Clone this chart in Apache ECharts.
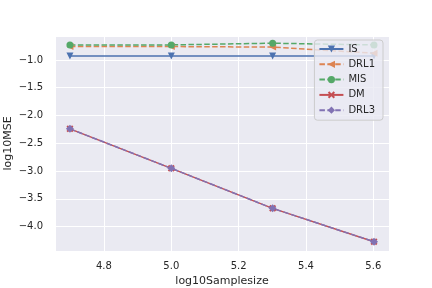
<!DOCTYPE html>
<html><head><meta charset="utf-8">
<script src="https://cdn.jsdelivr.net/npm/echarts@6/dist/echarts.min.js"></script>
<style>html,body{margin:0;padding:0;background:#fff}#c{width:432px;height:288px}</style>
</head><body><div id="c"></div>
<script>
var xVals = [4.699, 5.0, 5.301, 5.602];
var IS   = [-0.93, -0.93, -0.93, -0.93];
var DRL1 = [-0.76, -0.76, -0.77, -0.88];
var MIS  = [-0.73, -0.73, -0.70, -0.73];
var DM   = [-2.24, -2.95, -3.67, -4.27];
var DRL3 = [-2.24, -2.95, -3.67, -4.27];
var names = ['IS', 'DRL1', 'MIS', 'DM', 'DRL3'];

function pairs(ys){ return xVals.map(function(x,i){ return [x, ys[i]]; }); }
var font = 'DejaVu Sans';
var txt = '#262626';
var sym = {
  down: 'path://M0,0 L10,0 L5,10 Z',
  left: 'path://M10,0 L10,10 L0,5 Z',
  x: 'path://M0,2 L2,0 L5,3 L8,0 L10,2 L7,5 L10,8 L8,10 L5,7 L2,10 L0,8 L3,5 Z'
};
function ser(name, ys, color, symbol, dashed, size){
  return {
    name: name, type: 'line', data: pairs(ys), symbol: symbol, symbolSize: size,
    showAllSymbol: true, animation: false,
    itemStyle: {color: color},
    lineStyle: {color: color, width: 1.5, type: dashed ? [5.5, 2.4] : 'solid'}
  };
}
var chart = echarts.init(document.getElementById('c'), null, {renderer: 'canvas'});
chart.setOption({
  backgroundColor: '#ffffff',
  animation: false,
  grid: {left: 55, right: 43, top: 36, bottom: 37, show: true, backgroundColor: '#EAEAF2', borderWidth: 0,
    containLabel: false, outerBoundsMode: 'none'},
  xAxis: {
    type: 'value', min: 4.6546, max: 5.6466, splitNumber: 5,
    name: 'log10Samplesize', nameLocation: 'middle', nameGap: 24,
    nameTextStyle: {fontFamily: font, fontSize: 11, color: txt},
    axisLine: {show: false}, axisTick: {show: false},
    axisLabel: {fontFamily: font, fontSize: 10, color: txt, margin: 10, showMinLabel: false, showMaxLabel: false,
      formatter: function(v){ return v.toFixed(1); }},
    splitLine: {show: true, lineStyle: {color: '#ffffff', width: 1}}
  },
  yAxis: {
    type: 'value', min: -4.437, max: -0.570, splitNumber: 7,
    name: 'log10MSE', nameLocation: 'middle', nameGap: 41, nameRotate: 90, nameMoveOverlap: false,
    nameTextStyle: {fontFamily: font, fontSize: 11, color: txt},
    axisLine: {show: false}, axisTick: {show: false},
    axisLabel: {fontFamily: font, fontSize: 10, color: txt, margin: 12, showMinLabel: false, showMaxLabel: false,
      formatter: function(v){ return v.toFixed(1).replace('-', '\u2212'); }},
    splitLine: {show: true, lineStyle: {color: '#ffffff', width: 1}}
  },
  legend: {
    data: names, orient: 'vertical', right: 49, top: 40,
    backgroundColor: 'rgba(234,234,242,0.8)', borderColor: '#cccccc', borderWidth: 1, borderRadius: 3,
    padding: [3, 8, 4, 4], itemGap: 3.3, itemWidth: 24, itemHeight: 9,
    textStyle: {fontFamily: font, fontSize: 10, color: txt, lineHeight: 12}
  },
  series: [
    ser('IS', IS, '#4C72B0', sym.down, false, 7),
    ser('DRL1', DRL1, '#DD8452', sym.left, true, 7),
    ser('MIS', MIS, '#55A868', 'circle', true, 7),
    ser('DM', DM, '#C44E52', sym.x, false, 7),
    ser('DRL3', DRL3, '#8172B3', 'diamond', true, 8)
  ]
});
</script></body></html>
